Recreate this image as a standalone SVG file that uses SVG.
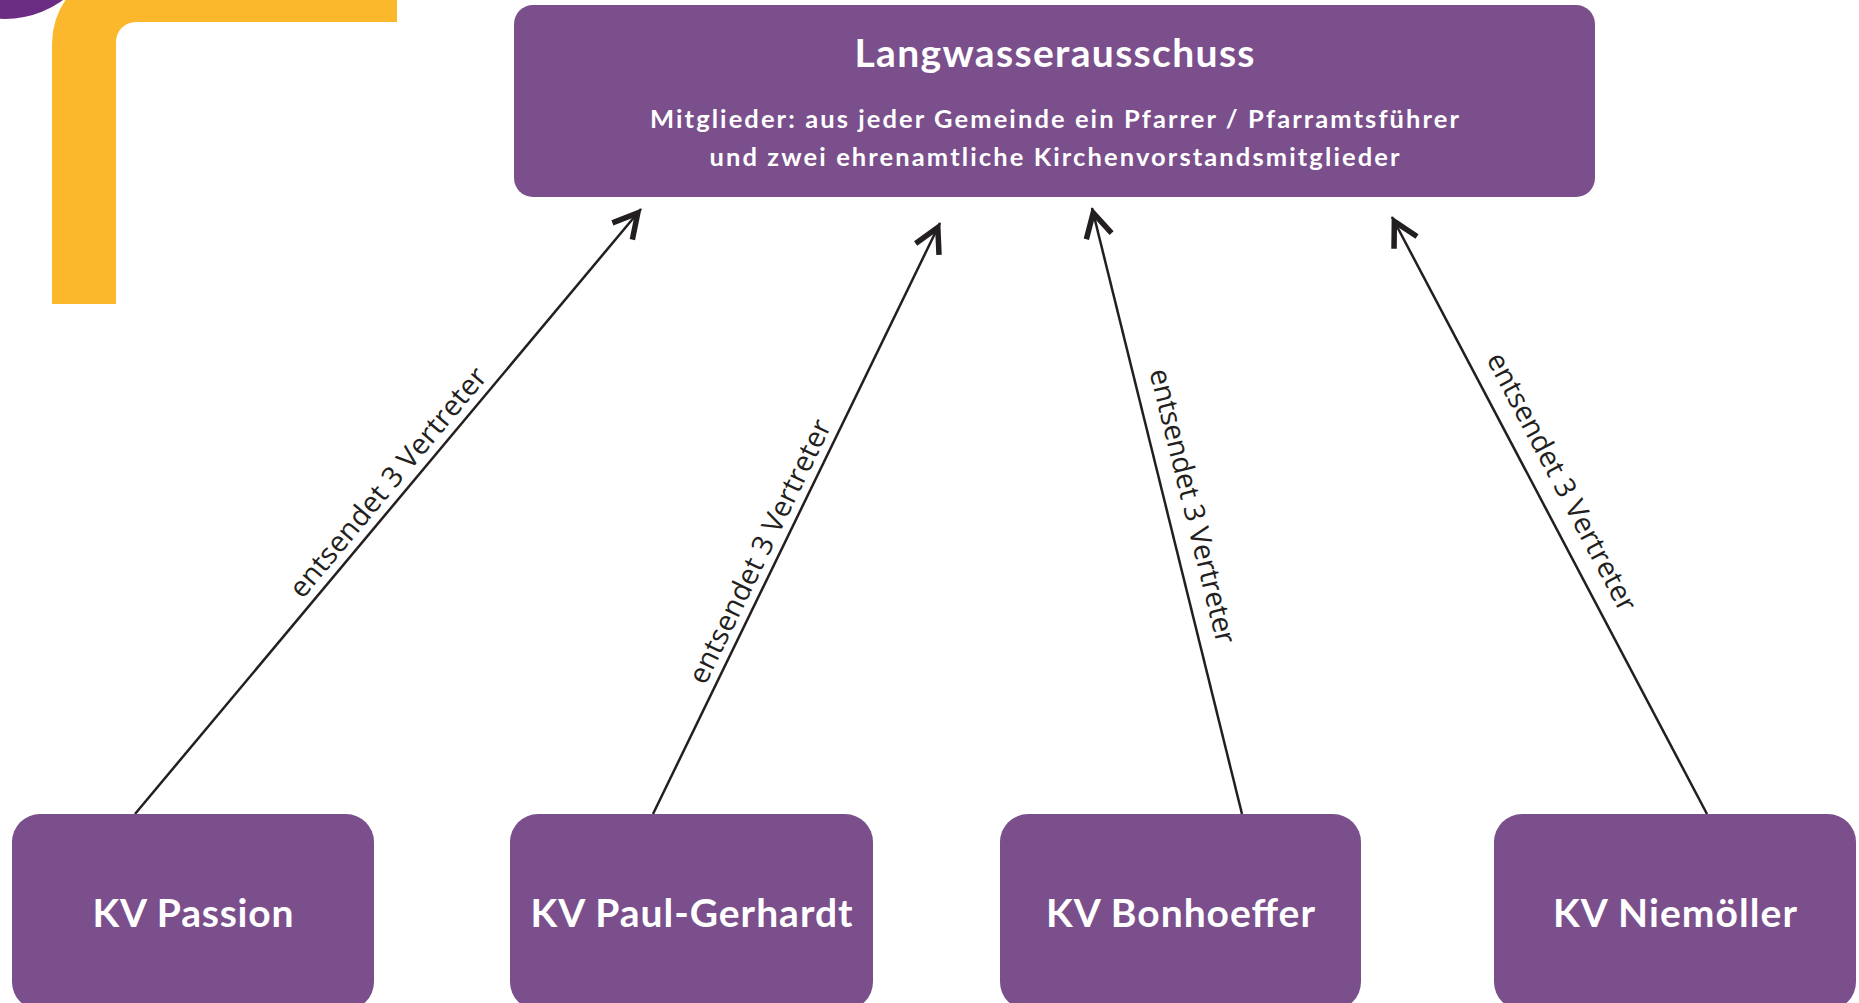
<svg xmlns="http://www.w3.org/2000/svg" width="1859" height="1003" viewBox="0 0 1859 1003">
<style>
.box{fill:#7b4f8c;}
.t{font-family:Lato,"Open Sans",sans-serif;font-weight:700;fill:#ffffff;text-anchor:middle;}
.lbl{font-family:"Open Sans","DejaVu Sans",sans-serif;font-size:28.5px;fill:#231f20;text-anchor:middle;}
.con{stroke:#231f20;stroke-width:2.5;fill:none;marker-end:url(#ah);}
</style>
<defs>
<marker id="ah" markerUnits="userSpaceOnUse" markerWidth="50" markerHeight="50" viewBox="-40 -25 50 50" refX="0" refY="0" orient="auto" overflow="visible">
<path d="M-29,-13 L-5,0 L-29,13" fill="none" stroke="#231f20" stroke-width="5.5" stroke-linejoin="miter"/>
</marker>
</defs>
<rect width="1859" height="1003" fill="#ffffff"/>
<g id="decor">
<circle cx="5" cy="-79" r="98" fill="#6b2c83"/>
<path d="M52,304 L52,43 A78,78 0 0 1 65.5,0 L397,0 L397,22 L136,22 A20,20 0 0 0 116,42 L116,304 Z" fill="#fbb82c"/>
</g>
<g id="connectors">
<line class="con" x1="135" y1="814" x2="641" y2="209"/>
<line class="con" x1="653" y1="814" x2="940" y2="223"/>
<line class="con" x1="1242" y1="814" x2="1092" y2="208"/>
<line class="con" x1="1707" y1="814" x2="1392" y2="217"/>
<text class="lbl" transform="translate(402.3,494.2) rotate(-50.1)" x="0" y="-9" textLength="290">entsendet 3 Vertreter</text>
<text class="lbl" transform="translate(776.7,559.6) rotate(-64.1)" x="0" y="-9" textLength="290">entsendet 3 Vertreter</text>
<text class="lbl" transform="translate(1167.7,512.3) rotate(76.1)" x="0" y="-16" textLength="282">entsendet 3 Vertreter</text>
<text class="lbl" transform="translate(1539.1,493.8) rotate(62.2)" x="0" y="-16" textLength="288">entsendet 3 Vertreter</text>
</g>
<g id="langwasserausschuss">
<rect class="box" x="514" y="5" width="1081" height="192" rx="19"/>
<text class="t" x="1054.5" y="67" font-size="39" textLength="400">Langwasserausschuss</text>
<text class="t" x="1054.5" y="128" font-size="25.5" textLength="809">Mitglieder: aus jeder Gemeinde ein Pfarrer / Pfarramtsführer</text>
<text class="t" x="1054.5" y="166" font-size="25.5" textLength="690">und zwei ehrenamtliche Kirchenvorstandsmitglieder</text>
</g>
<g id="kv-passion">
<rect class="box" x="12" y="814" width="362" height="196" rx="28"/>
<text class="t" x="193" y="927" font-size="39" textLength="201">KV Passion</text>
</g>
<g id="kv-paul-gerhardt">
<rect class="box" x="510" y="814" width="363" height="196" rx="28"/>
<text class="t" x="691.5" y="927" font-size="39" textLength="322">KV Paul-Gerhardt</text>
</g>
<g id="kv-bonhoeffer">
<rect class="box" x="1000" y="814" width="361" height="196" rx="28"/>
<text class="t" x="1180.5" y="927" font-size="39" textLength="269">KV Bonhoeffer</text>
</g>
<g id="kv-niemoeller">
<rect class="box" x="1494" y="814" width="362" height="196" rx="28"/>
<text class="t" x="1675" y="927" font-size="39" textLength="244">KV Niemöller</text>
</g>
</svg>
